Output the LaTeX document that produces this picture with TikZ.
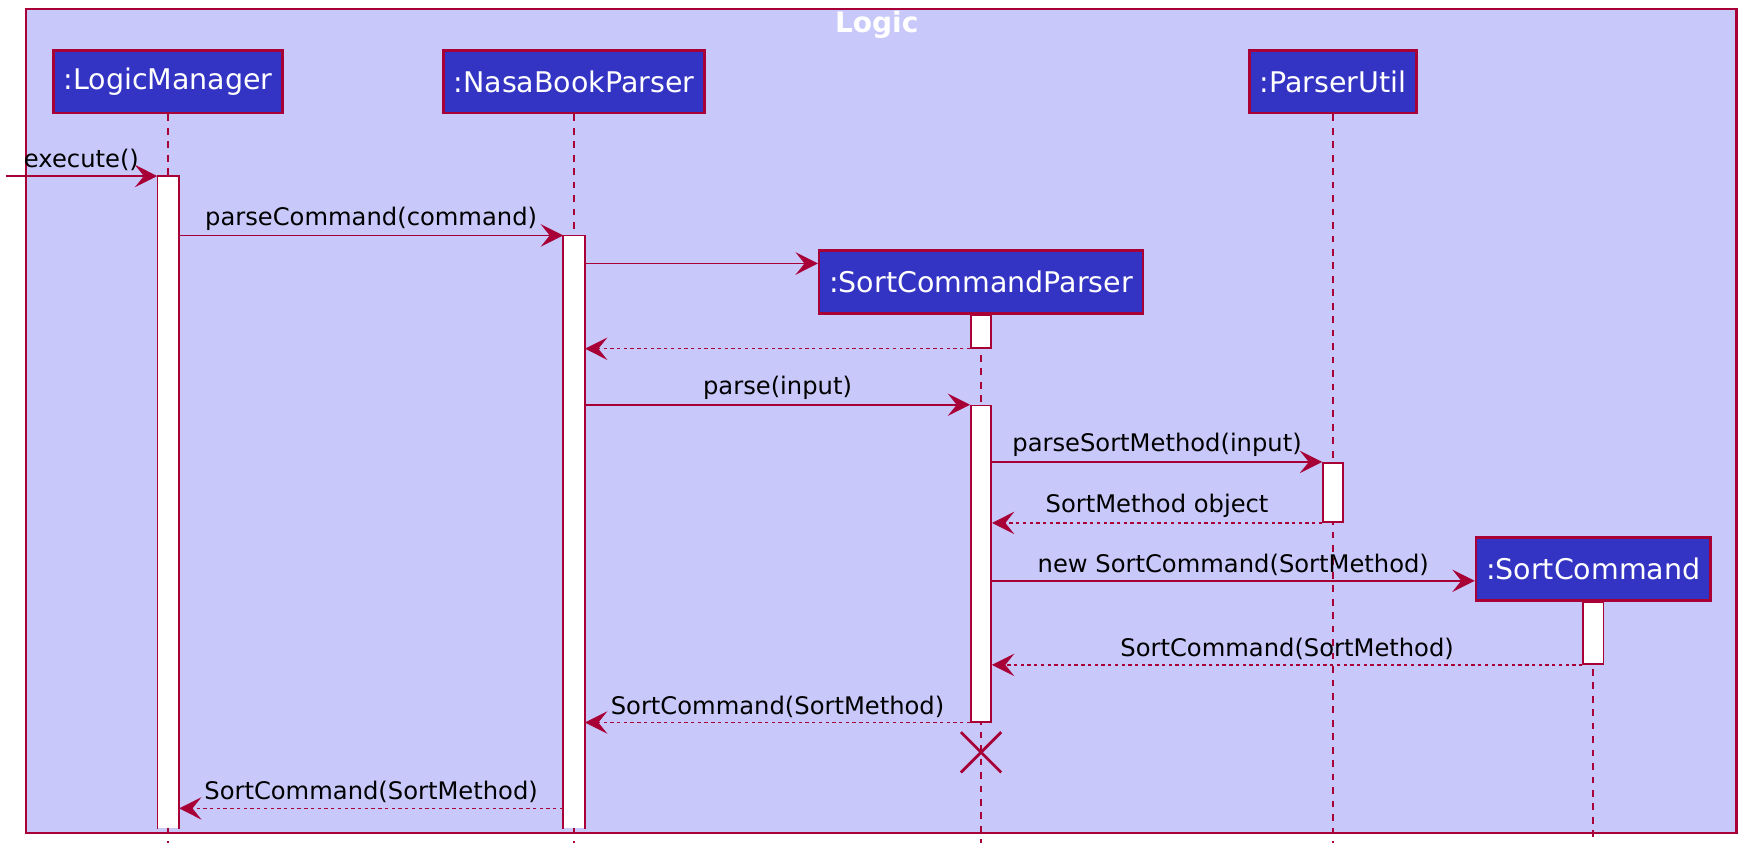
\documentclass[tikz,border=0pt]{standalone}
\usepackage{fontspec}
\setmainfont{DejaVu Sans}
\usetikzlibrary{arrows.meta, positioning}
\definecolor{umlred}{HTML}{A80036}
\definecolor{umlblue}{HTML}{3434C4}
\definecolor{umlback}{HTML}{C8C8FA}
\newcommand{\partfont}{\fontsize{12.7}{15}\selectfont}
\newcommand{\msgfont}{\fontsize{10.8}{13}\selectfont}

\begin{document}
\begin{tikzpicture}[
        x=0.5pt, y=-0.5pt,
        part/.style={rectangle, draw=umlred, line width=1.1pt, fill=umlblue, text=white, font=\partfont, minimum height=28pt, inner xsep=4.5pt},
        bar/.style={rectangle, draw=umlred, fill=white, line width=0.7pt, minimum width=9pt, inner sep=0pt, anchor=north},
        openbar/.style={bar, draw=none},
        barline/.style={draw=umlred, line width=0.7pt},
        life/.style={draw=umlred, line width=0.7pt, dash pattern=on 3pt off 3pt},
        msg/.style={draw=umlred, line width=0.7pt, -{Stealth[length=10pt, width=10pt, inset=4pt]}},
        ret/.style={msg, dash pattern=on 1.5pt off 1.5pt},
        lbl/.style={midway, above, inner sep=2pt, font=\msgfont, text=black}
    ]
        \useasboundingbox (0,0) rectangle (1568,773);
        \draw[draw=umlred, fill=umlback, line width=1.1pt] (23,8) rectangle (1549,743);
        \node[font=\fontsize{12.5}{15}\selectfont\bfseries, text=white] (title) at (782,22) {Logic};

        \node[part] (lm) at (150,73) {:LogicManager};
        \node[part] (nbp) at (512,73) {:NasaBookParser};
        \node[part] (pu) at (1189,73) {:ParserUtil};
        \node[part] (scp) at (875,251.5) {:SortCommandParser};
        \node[part] (sc) at (1421,507.5) {:SortCommand};

        % lifelines
        \draw[life] (lm.south) -- (lm.south |- 0,752);
        \draw[life] (nbp.south) -- (nbp.south |- 0,752);
        \draw[life] (pu.south) -- (pu.south |- 0,752);
        \draw[life] (scp.south) -- (scp.south |- 0,752);
        \draw[life] (sc.south) -- (sc.south |- 0,752);

        % activations
        \node[openbar, minimum height=290.5pt] (lmbar) at (150,157) {};
        \draw[barline] (lmbar.south west) -- (lmbar.north west) -- (lmbar.north east) -- (lmbar.south east);
        \node[openbar, minimum height=264pt] (nbbar) at (512,210) {};
        \draw[barline] (nbbar.south west) -- (nbbar.north west) -- (nbbar.north east) -- (nbbar.south east);
        \node[bar, minimum height=14.5pt] (scpbar1) at (scp.south) {};
        \node[bar, minimum height=141pt] (scpbar2) at (875,361) {};
        \node[bar, minimum height=26.5pt] (pubar) at (1189,412) {};
        \node[bar, minimum height=27.5pt] (scbar) at (sc.south) {};

        % messages
        \coordinate (in) at (5,157);
        \draw[msg] (in) -- node[lbl] {execute()} (lmbar.north west);
        \draw[msg] (lmbar.east |- nbbar.north) -- node[lbl] {parseCommand(command)} (nbbar.north west);
        \draw[msg] (nbbar.east |- 0,235) -- (scp.west |- 0,235);
        \draw[ret] (scpbar1.south west) -- (nbbar.east |- scpbar1.south);
        \draw[msg] (nbbar.east |- scpbar2.north) -- node[lbl] {parse(input)} (scpbar2.north west);
        \draw[msg] (scpbar2.east |- pubar.north) -- node[lbl] {parseSortMethod(input)} (pubar.north west);
        \draw[ret] (pubar.south west) -- node[lbl] {SortMethod object} (scpbar2.east |- pubar.south);
        \draw[msg] (scpbar2.east |- 0,518) -- node[lbl] {new SortCommand(SortMethod)} (sc.west |- 0,518);
        \draw[ret] (scbar.south west) -- node[lbl] {SortCommand(SortMethod)} (scpbar2.east |- scbar.south);
        \draw[ret] (scpbar2.south west) -- node[lbl] {SortCommand(SortMethod)} (nbbar.east |- scpbar2.south);
        \coordinate (kill) at (scp.south |- 0,671);
        \draw[draw=umlred, line width=1.2pt] (kill) ++(-18,-18) -- ++(36,36) (kill) ++(18,-18) -- ++(-36,36);
        \draw[ret] (nbbar.west |- 0,721) -- node[lbl] {SortCommand(SortMethod)} (lmbar.east |- 0,721);
    \end{tikzpicture}
\end{document}
